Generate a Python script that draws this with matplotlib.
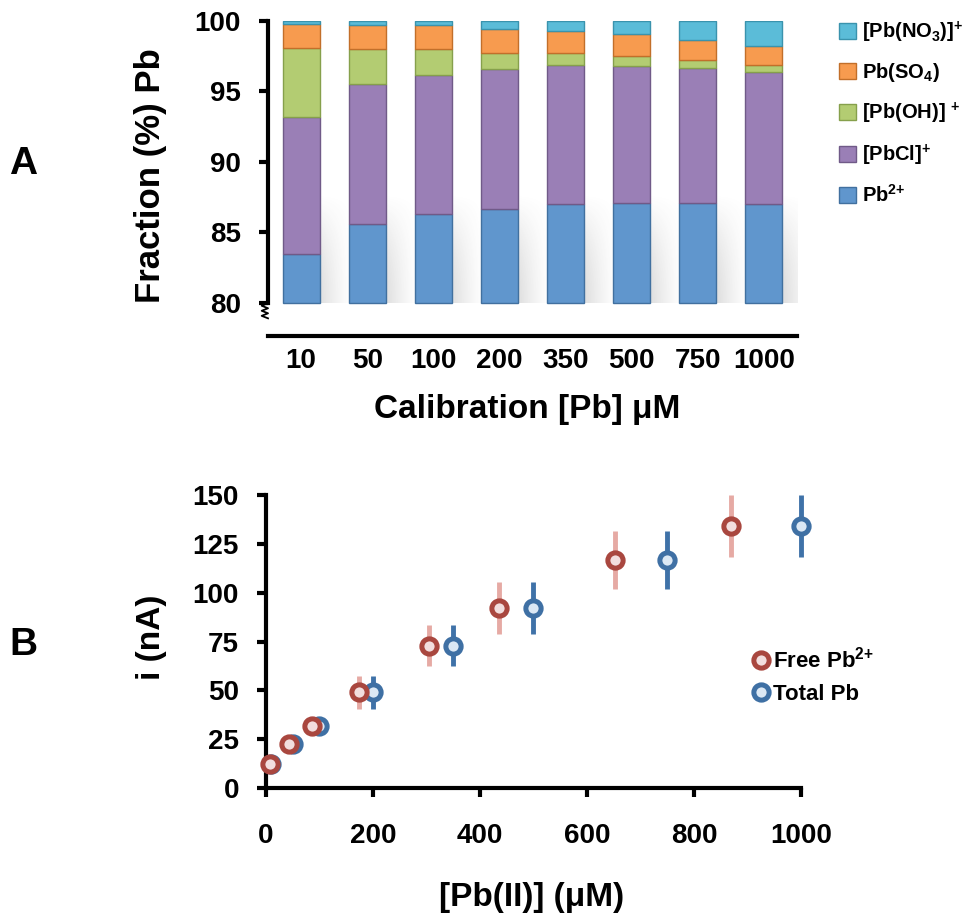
import matplotlib
matplotlib.use("Agg")
import matplotlib.pyplot as plt
import numpy as np
from matplotlib.patches import Patch
from matplotlib.lines import Line2D

plt.rcParams["font.family"] = ["Liberation Sans", "DejaVu Sans"]
plt.rcParams["font.weight"] = "bold"
plt.rcParams["mathtext.fontset"] = "custom"
plt.rcParams["mathtext.rm"] = "Liberation Sans:bold"
plt.rcParams["mathtext.bf"] = "Liberation Sans:bold"
plt.rcParams["mathtext.it"] = "Liberation Sans:bold"

# ---- panel A data: speciation (%) at each calibration level
calib_labels = ["10", "50", "100", "200", "350", "500", "750", "1000"]
pb_free = [83.5, 85.6, 86.3, 86.7, 87.0, 87.1, 87.1, 87.0]
pb_cl = [9.7, 9.9, 9.9, 9.9, 9.9, 9.7, 9.55, 9.4]
pb_oh = [4.9, 2.5, 1.8, 1.1, 0.8, 0.7, 0.6, 0.5]
pb_so4 = [1.7, 1.7, 1.7, 1.7, 1.6, 1.6, 1.4, 1.3]
pb_no3 = [0.2, 0.3, 0.3, 0.6, 0.7, 0.9, 1.35, 1.8]

species_labels = ["Pb$^{2{+}}$", "[PbCl]$^{{+}}$", "[Pb(OH)] $^{{+}}$",
                  "Pb(SO$_4$)", "[Pb(NO$_3$)]$^{{+}}$"]
species_colors = ["#6096cd", "#9a7fb6", "#b3cc72", "#f79b4f", "#5bbcd8"]
species_edges = ["#41709f", "#705a88", "#86a04c", "#c26f2a", "#3a93ad"]

# ---- panel B data: current vs concentration
total_pb = [10, 50, 100, 200, 350, 500, 750, 1000]
free_pb = [8.4, 42.8, 86.3, 173, 304.5, 435.5, 653, 870]
current = [12.3, 22.7, 31.9, 48.9, 72.8, 92.1, 116.8, 134.3]
current_err = [2, 3, 4, 8.3, 10.5, 13.4, 14.9, 15.8]

fig = plt.figure(figsize=(9.75, 9.13), dpi=100)

# ================= panel A =================
axA = fig.add_axes([0.2749, 0.632, 0.5425, 0.345])
x = np.arange(len(calib_labels))
bottom = np.full(len(x), 80.0)
series = [pb_free, pb_cl, pb_oh, pb_so4, pb_no3]
for i, vals in enumerate(series):
    vals = np.array(vals)
    h = vals - 80.0 if i == 0 else vals
    axA.bar(x, h, width=0.56, bottom=bottom, color=species_colors[i],
            edgecolor=species_edges[i], linewidth=1, zorder=3)
    bottom = bottom + h

# soft shadow behind the bars
u = np.linspace(0, 1, 80)[None, :]
v = np.linspace(0, 1, 60)[:, None]
alpha = 0.34 * (1 - u) ** 1.4 * (1 - v ** 2) ** 1.2
shade = np.dstack([np.full(alpha.shape + (3,), 0.3), alpha[..., None]])
for xi in x:
    axA.imshow(shade, extent=(xi, xi + 0.8, 80, 87.8), aspect="auto",
               origin="lower", zorder=1, interpolation="bilinear")

axA.set_xlim(-0.5, 7.5)
axA.set_ylim(77.66, 100)
axA.set_yticks([80, 85, 90, 95, 100])
axA.set_xticks(x)
axA.set_xticklabels(calib_labels)
axA.spines["top"].set_visible(False)
axA.spines["right"].set_visible(False)
axA.spines["left"].set_bounds(80, 100)
for s in ["left", "bottom"]:
    axA.spines[s].set_linewidth(3)
axA.tick_params(axis="y", direction="out", length=6.5, width=3,
                labelsize=20, pad=13)
axA.tick_params(axis="x", length=0, labelsize=20, pad=9)

# axis break zigzag below 80
zx = [0, -0.012, 0, -0.012, 0, -0.012, 0]
zy = np.linspace(0.104, 0.056, 7)
axA.plot(zx, zy, transform=axA.transAxes, color="black", lw=1.3,
         clip_on=False)

axA.set_ylabel("Fraction (%) Pb", fontsize=25, fontweight="bold")
axA.yaxis.set_label_coords(-0.191, 0.51)
axA.set_xlabel("Calibration [Pb] μM", fontsize=24, fontweight="bold")
axA.xaxis.set_label_coords(0.49, -0.185)

handles = [Patch(facecolor=species_colors[i], edgecolor=species_edges[i])
           for i in range(5)][::-1]
axA.legend(handles, species_labels[::-1], loc="upper left",
           bbox_to_anchor=(1.06, 1.037), frameon=False, fontsize=14.5,
           borderpad=0, labelspacing=0.82, handlelength=0.85,
           handleheight=0.85, handletextpad=0.3)

fig.text(0.0236, 0.820, "A", fontsize=28, fontweight="bold",
         ha="center", va="center")

# ================= panel B =================
axB = fig.add_axes([0.2728, 0.1369, 0.5487, 0.3209])
axB.errorbar(total_pb, current, yerr=current_err, fmt="o", ms=11,
             mfc="#dce8f4", mec="#3f70a4", mew=3.6, ecolor="#3f72a8",
             elinewidth=3.5, capsize=0, zorder=3, clip_on=False)
axB.errorbar(free_pb, current, yerr=current_err, fmt="o", ms=11,
             mfc="#f2dede", mec="#a9473f", mew=3.6, ecolor="#e6aaa4",
             elinewidth=3.5, capsize=0, zorder=4, clip_on=False)

axB.set_xlim(0, 1000)
axB.set_ylim(0, 150)
axB.set_xticks(range(0, 1001, 200))
axB.set_yticks(range(0, 151, 25))
axB.spines["top"].set_visible(False)
axB.spines["right"].set_visible(False)
for s in ["left", "bottom"]:
    axB.spines[s].set_linewidth(3)
axB.tick_params(axis="y", direction="out", length=6.5, width=3,
                labelsize=20, pad=13)
axB.tick_params(axis="x", direction="out", length=6.5, width=3,
                labelsize=20, pad=19)
axB.set_ylabel("i (nA)", fontsize=24, fontweight="bold")
axB.yaxis.set_label_coords(-0.185, 0.514)
axB.set_xlabel("[Pb(II)] (μM)", fontsize=24, fontweight="bold")
axB.xaxis.set_label_coords(0.497, -0.322)

leg_handles = [
    Line2D([], [], ls="none", marker="o", ms=11, mfc="#f2dede",
           mec="#a9473f", mew=3.6),
    Line2D([], [], ls="none", marker="o", ms=11, mfc="#dce8f4",
           mec="#3f70a4", mew=3.6),
]
axB.legend(leg_handles, ["Free Pb$^{2{+}}$", "Total Pb"], loc="upper left",
           bbox_to_anchor=(0.884, 0.52), frameon=False, fontsize=16,
           borderpad=0, handlelength=1.0, handletextpad=0.05,
           labelspacing=0.5)

fig.text(0.0241, 0.2935, "B", fontsize=28, fontweight="bold",
         ha="center", va="center")

fig.savefig("out.png", dpi=100)
